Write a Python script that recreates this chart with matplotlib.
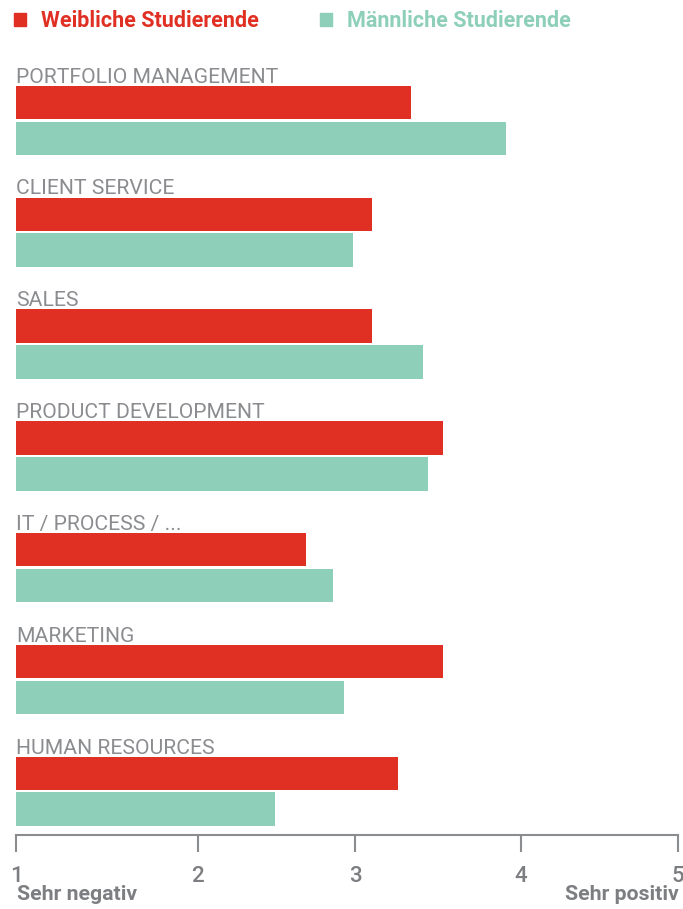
import numpy as np
import matplotlib
matplotlib.use("Agg")
import matplotlib.pyplot as plt
from matplotlib.patches import Rectangle

# ratings on a 1 (sehr negativ) .. 5 (sehr positiv) scale
categories = ["PORTFOLIO MANAGEMENT", "CLIENT SERVICE", "SALES", "PRODUCT DEVELOPMENT",
              "IT / PROCESS / ...", "MARKETING", "HUMAN RESOURCES"]
female = [3.34, 3.10, 3.10, 3.53, 2.69, 3.53, 3.26]
male = [3.91, 2.99, 3.41, 3.44, 2.86, 2.93, 2.49]
series_names = ["Weibliche Studierende", "Männliche Studierende"]
tick_values = [1, 2, 3, 4, 5]
tick_labels = ["1", "2", "3", "4", "5"]
end_labels = ["Sehr negativ", "Sehr positiv"]

RED = "#e03024"
TEAL = "#8dcfb9"
GREY = "#8a8c8f"
DARKGREY = "#7c7e81"

plt.rcParams["font.family"] = ["Roboto", "DejaVu Sans"]

# the printed scale is not evenly spaced, so map ticks onto their drawn spots
stops = np.array([0, 182, 339, 505, 662]) / 662.0


def fwd(x):
    return np.interp(x, tick_values, stops)


def inv(x):
    return np.interp(x, stops, tick_values)


W, H = 683, 909
fig = plt.figure(figsize=(W / 100, H / 100), dpi=100)
ax = fig.add_axes([16 / W, (H - 835) / H, 662 / W, 785 / H])
ax.set_xscale("function", functions=(fwd, inv))

idx = np.arange(len(categories))
off = 0.1606
bh = 0.30
ax.barh(idx - off, np.array(female) - 1, left=1, height=bh, color=RED)
ax.barh(idx + off, np.array(male) - 1, left=1, height=bh, color=TEAL)

for i, c in enumerate(categories):
    ax.text(1, i - off - bh / 2 - 0.027, c, color=GREY, fontsize=15.2,
            ha="left", va="baseline")

ax.set_xlim(1, 5)
ax.set_ylim(6.391, -0.630)
ax.set_xticks(tick_values)
ax.set_xticklabels(tick_labels, fontsize=16, color=DARKGREY, fontweight="medium")
ax.set_yticks([])
for s in ["top", "left", "right"]:
    ax.spines[s].set_visible(False)
ax.spines["bottom"].set_color(GREY)
ax.spines["bottom"].set_linewidth(1.5)
ax.tick_params(axis="x", length=12, width=1.5, color=GREY, pad=10)
ax.set_facecolor("none")

# end labels of the scale
fig.text(17 / W, 1 - 900 / H, end_labels[0], fontsize=15.3, fontweight="bold",
         color=DARKGREY, ha="left", va="baseline")
fig.text(679 / W, 1 - 900 / H, end_labels[1], fontsize=15.3, fontweight="bold",
         color=DARKGREY, ha="right", va="baseline")

# legend on top
for name, col, x0 in [(series_names[0], RED, 14), (series_names[1], TEAL, 320)]:
    fig.add_artist(Rectangle((x0 / W, 1 - 26 / H), 12 / W, 13 / H,
                             transform=fig.transFigure, color=col))
    fig.text((x0 + 27) / W, 1 - 26.7 / H, name, fontsize=15.5, fontweight="bold",
             color=col, ha="left", va="baseline")

fig.savefig("out.png", dpi=100)
